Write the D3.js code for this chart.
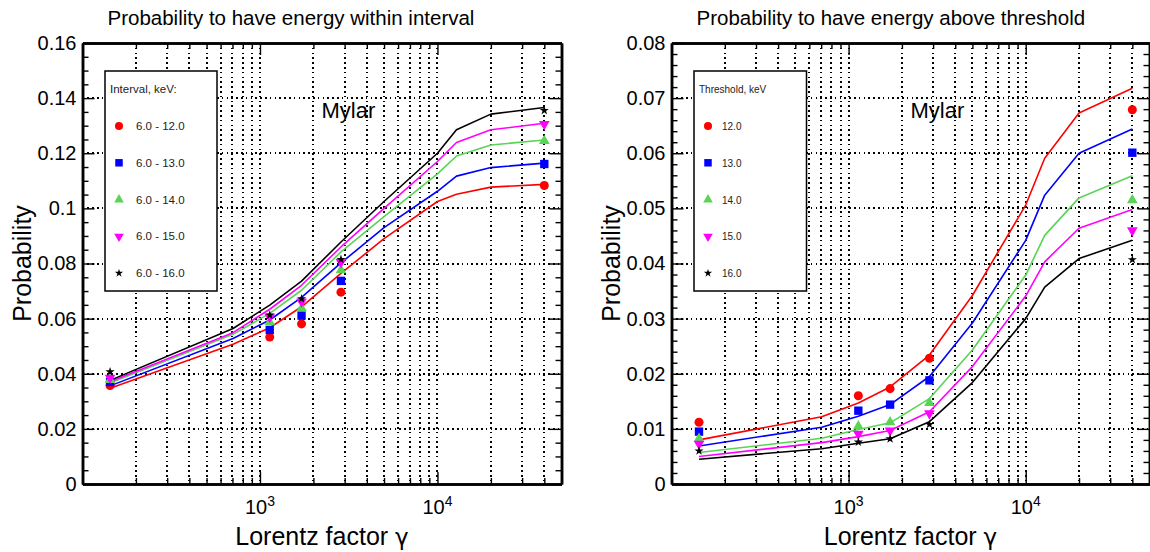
<!DOCTYPE html>
<html>
<head>
<meta charset="utf-8">
<script src="https://cdn.jsdelivr.net/npm/d3@7"></script>
<style>
  body { margin: 0; background: #fff; }
  svg { display: block; font-family: "Liberation Sans", Arial, Helvetica, sans-serif; }
</style>
</head>
<body>
<svg id="chart" width="1150" height="552"></svg>
<script>
// Lorentz factors where the simulated curves are evaluated
const gammaCurve = [143, 705, 1135, 1715, 2860, 5000, 10000, 12800, 20000, 40000];
// Lorentz factors of the measured points
const gammaMeasured = [143, 1135, 1715, 2860, 40000];

// Left panel: energy within interval
const intervalLabels = ['6.0 - 12.0', '6.0 - 13.0', '6.0 - 14.0', '6.0 - 15.0', '6.0 - 16.0'];
const intervalCurves = [
    [0.0347, 0.0507, 0.0567, 0.0643, 0.0764, 0.0890, 0.1025, 0.1051, 0.1077, 0.1087],
    [0.0356, 0.0528, 0.0595, 0.0677, 0.0802, 0.0930, 0.1062, 0.1117, 0.1148, 0.1164],
    [0.0366, 0.0543, 0.0619, 0.0703, 0.0842, 0.0970, 0.1125, 0.1190, 0.1230, 0.1248],
    [0.0371, 0.0549, 0.0634, 0.0721, 0.0860, 0.1000, 0.1170, 0.1239, 0.1285, 0.1309],
    [0.0376, 0.0564, 0.0649, 0.0736, 0.0878, 0.1025, 0.1200, 0.1285, 0.1342, 0.1366]
];
const intervalMeasured = [
    [0.0357, 0.0533, 0.0581, 0.0696, 0.1083],
    [0.0370, 0.0559, 0.0611, 0.0737, 0.1161],
    [0.0378, 0.0587, 0.0638, 0.0776, 0.1245],
    [0.0385, 0.0606, 0.0662, 0.0805, 0.1306],
    [0.0407, 0.0613, 0.0672, 0.0815, 0.1355]
];

// Right panel: energy above threshold
const thresholdLabels = ['12.0', '13.0', '14.0', '15.0', '16.0'];
const thresholdCurves = [
    [0.0080, 0.0122, 0.0147, 0.0176, 0.0234, 0.0342, 0.0506, 0.0591, 0.0673, 0.0718],
    [0.0069, 0.0103, 0.0123, 0.0144, 0.0195, 0.0292, 0.0442, 0.0524, 0.0600, 0.0644],
    [0.0057, 0.0083, 0.0099, 0.0111, 0.0155, 0.0243, 0.0379, 0.0451, 0.0519, 0.0559],
    [0.0050, 0.0075, 0.0086, 0.0097, 0.0131, 0.0213, 0.0341, 0.0403, 0.0464, 0.0498],
    [0.0045, 0.0064, 0.0074, 0.0082, 0.0113, 0.0184, 0.0300, 0.0357, 0.0409, 0.0442]
];
const thresholdMeasured = [
    [0.0112, 0.0160, 0.0173, 0.0228, 0.0679],
    [0.0095, 0.0133, 0.0144, 0.0188, 0.0601],
    [0.0082, 0.0105, 0.0112, 0.0147, 0.0515],
    [0.0073, 0.0091, 0.0097, 0.0128, 0.0460],
    [0.0060, 0.0076, 0.0082, 0.0108, 0.0407]
];

// Axis ticks
const xDomain = [100, 50000];
const xMajorTicks = [1000, 10000];
const leftYTicks = [0, 0.02, 0.04, 0.06, 0.08, 0.1, 0.12, 0.14, 0.16];
const leftYTickLabels = ['0', '0.02', '0.04', '0.06', '0.08', '0.1', '0.12', '0.14', '0.16'];
const rightYTicks = [0, 0.01, 0.02, 0.03, 0.04, 0.05, 0.06, 0.07, 0.08];
const rightYTickLabels = ['0', '0.01', '0.02', '0.03', '0.04', '0.05', '0.06', '0.07', '0.08'];

const seriesColors = ['#ff0000', '#0000ff', '#59d454', '#ff00ff', '#000000'];
const seriesSymbols = [
    { type: d3.symbolCircle, size: 64, rot: 0 },
    { type: d3.symbolSquare, size: 70, rot: 0 },
    { type: d3.symbolTriangle, size: 50, rot: 0 },
    { type: d3.symbolTriangle, size: 50, rot: 180 },
    { type: d3.symbolStar, size: 26, rot: 0 }
];

const svg = d3.select('#chart');
const plotTop = 43;
const plotBottom = 484;

function drawPanel(p) {
    const g = svg.append('g');

    const x = d3.scaleLog().domain(xDomain).range([p.x0, p.x1]);
    const yMax = p.yTicks[p.yTicks.length - 1];
    const y = d3.scaleLinear().domain([0, yMax]).range([plotBottom, plotTop]);

    // minor x positions from the log scale
    const xAll = x.ticks().filter(v => v > xDomain[0] && v < xDomain[1]);
    const xMinor = xAll.filter(v => !xMajorTicks.includes(v));
    const yMinor = d3.range(0, yMax + 1e-9, p.yMinorStep)
        .filter(v => !p.yTicks.some(t => Math.abs(t - v) < 1e-9));

    // dotted grid
    const grid = g.append('g')
        .attr('stroke', '#000')
        .attr('stroke-width', 1.6)
        .attr('stroke-dasharray', '1.6,3.2')
        .attr('shape-rendering', 'crispEdges');
    grid.selectAll('line.vx')
        .data(xAll)
        .join('line')
        .attr('x1', d => Math.round(x(d))).attr('x2', d => Math.round(x(d)))
        .attr('y1', plotTop).attr('y2', plotBottom);
    grid.selectAll('line.hy')
        .data(p.yTicks.slice(1, -1))
        .join('line')
        .attr('x1', p.x0).attr('x2', p.x1)
        .attr('y1', d => Math.round(y(d))).attr('y2', d => Math.round(y(d)));

    // curves
    const line = d3.line()
        .x((d, i) => x(gammaCurve[i]))
        .y(d => y(d));
    p.curves.forEach((vals, k) => {
        g.append('path')
            .datum(vals)
            .attr('d', line)
            .attr('fill', 'none')
            .attr('stroke', seriesColors[k])
            .attr('stroke-width', 1.6)
            .attr('stroke-linejoin', 'round');
    });

    // measured points
    p.measured.forEach((vals, k) => {
        const s = seriesSymbols[k];
        g.append('g').selectAll('path')
            .data(vals)
            .join('path')
            .attr('d', d3.symbol().type(s.type).size(s.size))
            .attr('transform', (d, i) => `translate(${x(gammaMeasured[i])},${y(d)}) rotate(${s.rot})`)
            .attr('fill', seriesColors[k]);
    });

    // axes, ticks pointing inward
    const styleAxis = sel => {
        sel.select('.domain').attr('stroke-width', 2.5);
        sel.selectAll('.tick line').attr('stroke-width', 1.4);
    };
    g.append('g').attr('transform', `translate(0,${plotBottom})`)
        .call(d3.axisBottom(x).tickValues(xMajorTicks).tickSize(-12).tickSizeOuter(0).tickFormat(''))
        .call(styleAxis);
    g.append('g').attr('transform', `translate(0,${plotBottom})`)
        .call(d3.axisBottom(x).tickValues(xMinor).tickSize(-6).tickSizeOuter(0).tickFormat(''))
        .call(styleAxis);
    g.append('g').attr('transform', `translate(0,${plotTop})`)
        .call(d3.axisTop(x).tickValues(xMajorTicks).tickSize(-12).tickSizeOuter(0).tickFormat(''))
        .call(styleAxis);
    g.append('g').attr('transform', `translate(0,${plotTop})`)
        .call(d3.axisTop(x).tickValues(xMinor).tickSize(-6).tickSizeOuter(0).tickFormat(''))
        .call(styleAxis);

    const yAxis = g.append('g').attr('transform', `translate(${p.x0},0)`)
        .call(d3.axisLeft(y).tickValues(p.yTicks).tickSize(-12).tickSizeOuter(0).tickPadding(6)
            .tickFormat((d, i) => p.yTickLabels[i]))
        .call(styleAxis);
    yAxis.selectAll('.tick text')
        .attr('font-size', 20)
        .attr('font-family', '"Liberation Sans", Arial, sans-serif')
        .attr('fill', '#000');
    g.append('g').attr('transform', `translate(${p.x0},0)`)
        .call(d3.axisLeft(y).tickValues(yMinor).tickSize(-6).tickSizeOuter(0).tickFormat(''))
        .call(styleAxis);
    g.append('g').attr('transform', `translate(${p.x1},0)`)
        .call(d3.axisRight(y).tickValues(p.yTicks).tickSize(-12).tickSizeOuter(0).tickFormat(''))
        .call(styleAxis);
    g.append('g').attr('transform', `translate(${p.x1},0)`)
        .call(d3.axisRight(y).tickValues(yMinor).tickSize(-6).tickSizeOuter(0).tickFormat(''))
        .call(styleAxis);

    // x tick labels: 10^n
    g.selectAll('text.xlab')
        .data(xMajorTicks)
        .join('text')
        .attr('x', d => x(d))
        .attr('y', plotBottom + 30)
        .attr('text-anchor', 'middle')
        .attr('font-size', 20)
        .each(function(d) {
            const t = d3.select(this);
            t.append('tspan').text('10');
            t.append('tspan').attr('dy', -8).attr('font-size', 14).text(Math.round(Math.log10(d)));
        });

    // axis titles
    const xt = g.append('text')
        .attr('x', (p.x0 + p.x1) / 2)
        .attr('y', 545)
        .attr('text-anchor', 'middle')
        .attr('font-size', 25);
    xt.append('tspan').text('Lorentz factor ');
    xt.append('tspan').attr('font-family', '"DejaVu Sans", sans-serif').attr('font-size', 23).text('\u03b3');
    g.append('text')
        .attr('transform', `translate(${p.x0 - 52},${(plotTop + plotBottom) / 2}) rotate(-90)`)
        .attr('text-anchor', 'middle')
        .attr('font-size', 25)
        .text('Probability');

    // panel title
    g.append('text')
        .attr('x', p.x0 + 25)
        .attr('y', 25)
        .attr('font-size', 20.5)
        .text(p.title);

    g.append('text')
        .attr('x', p.x0 + 239)
        .attr('y', 117.5)
        .attr('font-size', 22)
        .text('Mylar');

    // legend
    const lg = g.append('g').attr('transform', `translate(${p.x0 + 22.5},71)`);
    lg.append('rect')
        .attr('width', p.legendWidth)
        .attr('height', 220)
        .attr('fill', '#fff')
        .attr('stroke', '#000')
        .attr('stroke-width', 1.5);
    lg.append('text')
        .attr('x', 5)
        .attr('y', 22)
        .attr('font-size', p.legendTitleFont)
        .attr('fill', '#222')
        .text(p.legendTitle);
    p.labels.forEach((lab, k) => {
        const s = seriesSymbols[k];
        const cy = 55 + k * 36.8;
        lg.append('path')
            .attr('d', d3.symbol().type(s.type).size(s.size * 0.8))
            .attr('transform', `translate(14,${cy}) rotate(${s.rot})`)
            .attr('fill', seriesColors[k]);
        lg.append('text')
            .attr('x', p.legendTextX)
            .attr('y', cy + 4)
            .attr('font-size', p.legendFont)
            .attr('fill', '#222')
            .text(lab);
    });
}

drawPanel({
    x0: 82.5, x1: 561.5,
    yTicks: leftYTicks, yTickLabels: leftYTickLabels, yMinorStep: 0.005,
    curves: intervalCurves, measured: intervalMeasured, labels: intervalLabels,
    title: 'Probability to have energy within interval',
    legendTitle: 'Interval, keV:', legendWidth: 112, legendTitleFont: 11.5,
    legendFont: 11.5, legendTextX: 31
});
drawPanel({
    x0: 671.5, x1: 1149.5,
    yTicks: rightYTicks, yTickLabels: rightYTickLabels, yMinorStep: 0.002,
    curves: thresholdCurves, measured: thresholdMeasured, labels: thresholdLabels,
    title: 'Probability to have energy above threshold',
    legendTitle: 'Threshold, keV', legendWidth: 112.5, legendTitleFont: 10,
    legendFont: 10, legendTextX: 28
});
</script>
</body>
</html>
